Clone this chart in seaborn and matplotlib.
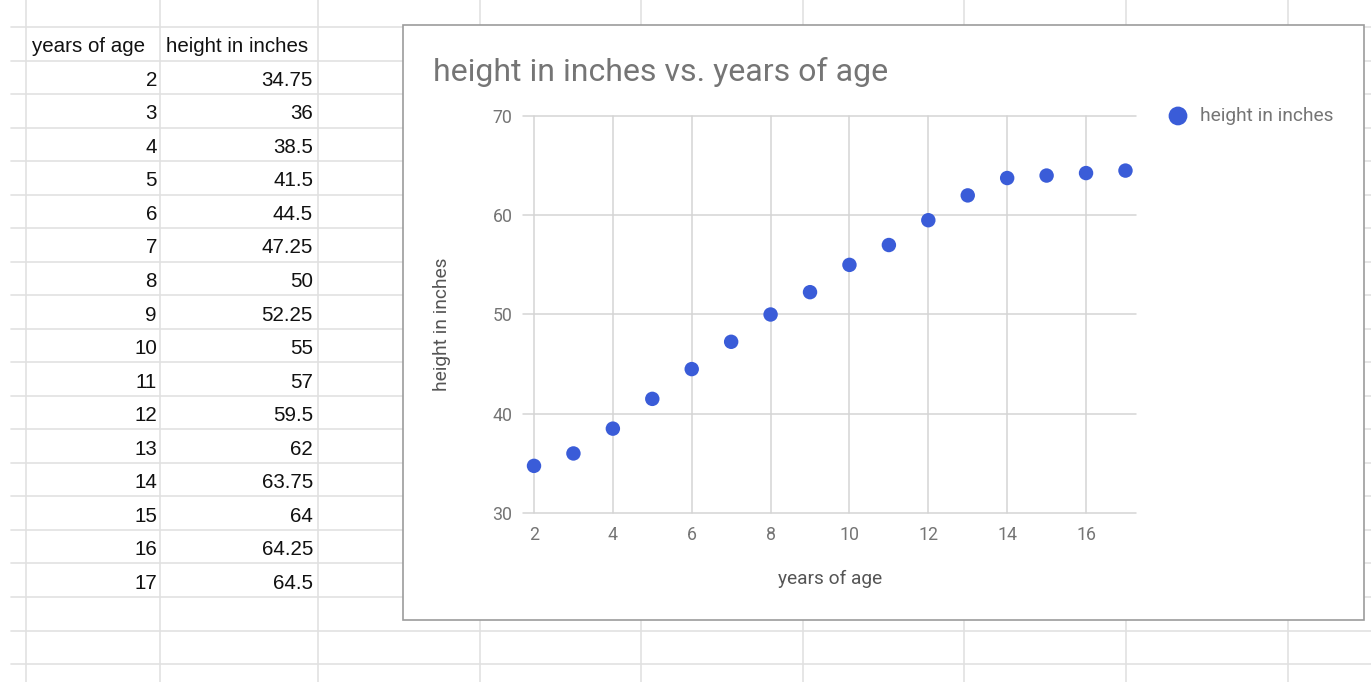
import matplotlib
matplotlib.use("Agg")
import matplotlib.pyplot as plt
from matplotlib.lines import Line2D
from matplotlib.patches import Rectangle
import seaborn as sns

# ---- data ----
years_of_age = [2, 3, 4, 5, 6, 7, 8, 9, 10, 11, 12, 13, 14, 15, 16, 17]
height_in_inches = [34.75, 36, 38.5, 41.5, 44.5, 47.25, 50, 52.25, 55, 57,
                    59.5, 62, 63.75, 64, 64.25, 64.5]
height_labels = ["34.75", "36", "38.5", "41.5", "44.5", "47.25", "50", "52.25",
                 "55", "57", "59.5", "62", "63.75", "64", "64.25", "64.5"]
col_headers = ["years of age", "height in inches"]
chart_title = "height in inches vs. years of age"
x_ticks = [2, 4, 6, 8, 10, 12, 14, 16]
y_ticks = [30, 40, 50, 60, 70]

sns.set_style("white")
plt.rcParams['font.family'] = ['Roboto', 'DejaVu Sans']

W, H = 1371, 682
def fx(x):
    return x / W
def fy(y):
    return 1 - y / H

fig = plt.figure(figsize=(W / 100, H / 100), dpi=100)
fig.patch.set_facecolor("white")

# ---- spreadsheet grid ----
grid_c = "#e1e1e1"
col_x = [26, 160, 318, 480, 641, 803, 964, 1126, 1288]
row_top = 27.0
row_h = 33.53
for x in col_x:
    fig.add_artist(Line2D([fx(x), fx(x)], [fy(0), fy(H)], transform=fig.transFigure,
                          color=grid_c, lw=1.2, zorder=-3))
for k in range(20):
    y = row_top + k * row_h
    fig.add_artist(Line2D([fx(11), fx(W)], [fy(y), fy(y)], transform=fig.transFigure,
                          color=grid_c, lw=1.2, zorder=-3))

# ---- table text ----
tfont = dict(family=['Liberation Sans', 'DejaVu Sans'], size=14.8, color="#111111", zorder=2)
base_off = 8.5
hy = row_top + row_h / 2 + base_off
fig.text(fx(32), fy(hy), col_headers[0], ha="left", va="baseline", **tfont)
fig.text(fx(166), fy(hy), col_headers[1], ha="left", va="baseline", **tfont)
for i, (a, hl) in enumerate(zip(years_of_age, height_labels)):
    yb = row_top + (i + 1) * row_h + row_h / 2 + base_off
    fig.text(fx(157), fy(yb), str(a), ha="right", va="baseline", **tfont)
    fig.text(fx(313), fy(yb), hl, ha="right", va="baseline", **tfont)

# ---- chart box ----
box = Rectangle((fx(403), fy(620)), fx(1364) - fx(403), fy(25) - fy(620),
                transform=fig.transFigure, facecolor="white", edgecolor="#9c9c9c",
                lw=1.2, zorder=-1)
fig.add_artist(box)

fig.text(fx(433), fy(81), chart_title, ha="left", va="baseline", fontsize=23,
         color="#757575")

# ---- plot ----
ax = fig.add_axes([fx(523), fy(513), (1136 - 523) / W, (513 - 116) / H])
ax.set_facecolor("none")
sns.scatterplot(x=years_of_age, y=height_in_inches, ax=ax, s=108, color="#3a5cd8",
                edgecolor="none", linewidth=0, label="height in inches", zorder=3)

ax.set_xlim(1.721, 17.267)
ax.set_ylim(30, 70)
ax.set_xticks(x_ticks)
ax.set_yticks(y_ticks)
for s in ax.spines.values():
    s.set_visible(False)
ax.grid(True, color="#d4d4d4", lw=1.1)
ax.tick_params(axis="both", length=0, labelsize=12.8, labelcolor="#757575")
ax.tick_params(axis="y", pad=7.5)
ax.tick_params(axis="x", pad=9)
for gl in ax.get_ygridlines() + ax.get_xgridlines():
    gl.set_clip_on(False)

ax.set_xlabel("years of age", fontsize=13.8, color="#555555")
ax.set_ylabel("height in inches", fontsize=13.8, color="#555555")
ax.xaxis.label.set_va("center")
ax.yaxis.label.set_va("center")
ax.xaxis.set_label_coords((830 - 523) / 613, (513 - 579) / 397)
ax.yaxis.set_label_coords((442 - 523) / 613, (513 - 324) / 397)

fs_px = 13.8 * 100 / 72
ax.legend(loc="center left", bbox_to_anchor=(fx(1178 - fs_px / 2), fy(116)),
          bbox_transform=fig.transFigure, frameon=False, fontsize=13.8,
          labelcolor="#757575", handlelength=1.0, handletextpad=(22 - fs_px / 2) / fs_px,
          borderaxespad=0, borderpad=0, markerscale=1.3)

fig.savefig("out.png", dpi=100, facecolor="white")
